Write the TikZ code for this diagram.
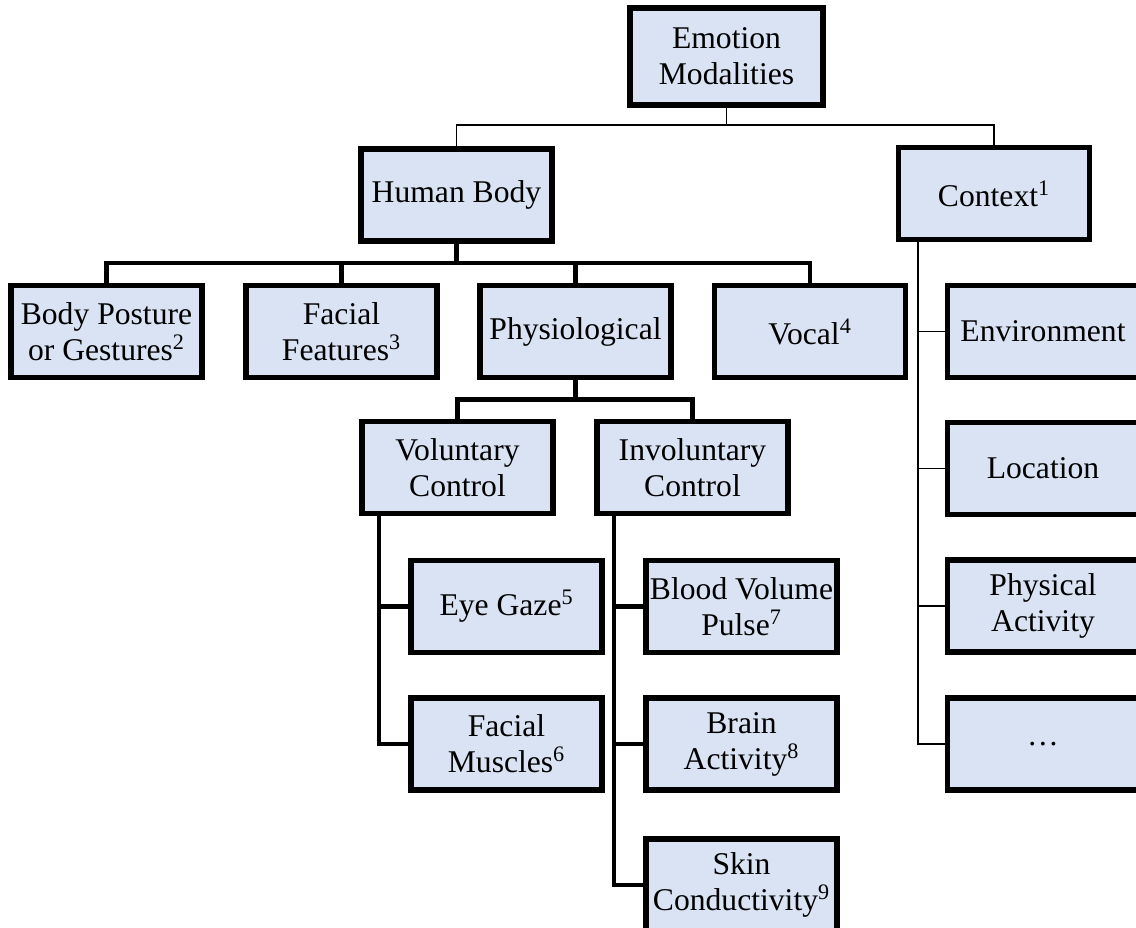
\documentclass[tikz,border=0pt]{standalone}
\usepackage{fontspec}
\setmainfont{Liberation Serif}
\usetikzlibrary{positioning}
\definecolor{modfill}{RGB}{218,227,243}
\tikzset{
  modbox/.style={draw, line width=3.2pt, fill=modfill, align=center,
                 minimum width=#1, minimum height=1.84cm, inner sep=1pt,
                 font=\fontsize{18}{20.5}\selectfont},
  modbox/.default=3.82cm,
  thinln/.style ={line width=1.1pt},
  thickln/.style={line width=2.6pt},
}

\begin{document}
\begin{tikzpicture}[x=0.02cm,y=-0.02cm]
  \useasboundingbox (0,0) rectangle (1136,928);
  \clip (0,0) rectangle (1136,928);
  %% top levels
  \node[modbox=3.86cm, minimum height=1.94cm] (emo) at (726.5,56.5) {Emotion\\Modalities};
  \node[modbox] (hbody) at (456.5,195) {Human Body};
  \node[modbox] (ctx) at (994,193.5) {Context\textsuperscript{1}};
  %% human body children
  \node[modbox] (posture) at (106.5,331.5) {Body Posture\\or Gestures\textsuperscript{2}};
  \node[modbox] (face) at (341.5,331.5) {Facial\\Features\textsuperscript{3}};
  \node[modbox] (physio) at (575.5,331.5) {Physiological};
  \node[modbox] (vocal) at (810,331.5) {Vocal\textsuperscript{4}};
  %% physiological children
  \node[modbox] (vol) at (457.5,467.5) {Voluntary\\Control};
  \node[modbox] (invol) at (692.5,467.5) {Involuntary\\Control};
  \node[modbox] (gaze) at (506.5,606.5) {Eye Gaze\textsuperscript{5}};
  \node[modbox] (muscle) at (506.5,744) {Facial\\Muscles\textsuperscript{6}};
  \node[modbox] (bvp) at (741.5,606.5) {Blood Volume\\Pulse\textsuperscript{7}};
  \node[modbox] (brain) at (741.5,744) {Brain\\Activity\textsuperscript{8}};
  \node[modbox] (skin) at (741.5,885) {Skin\\Conductivity\textsuperscript{9}};
  %% context children
  \node[modbox] (env) at (1043,331.5) {Environment};
  \node[modbox] (loc) at (1043,468.5) {Location};
  \node[modbox] (phys) at (1043,606) {Physical\\Activity};
  \node[modbox] (etc) at (1043,744) {\dots};

  \draw[thinln] (emo.south) -- ++(0,17) -| (hbody.north);
  \draw[thinln] (emo.south) -- ++(0,17) -| (ctx.north);
  \foreach \n in {posture,face,physio,vocal}
    \draw[thickln] (hbody.south) -- ++(0,19) -| (\n.north);
  \foreach \n in {vol,invol}
    \draw[thickln] (physio.south) -- ++(0,19) -| (\n.north);
  \foreach \n in {gaze,muscle}
    \draw[thickln] (vol.south west) ++(20,0) |- (\n.west);
  \foreach \n in {bvp,brain,skin}
    \draw[thickln] (invol.south west) ++(20,0) |- (\n.west);
  \foreach \n in {env,loc,phys,etc}
    \draw[thinln] (ctx.south west) ++(22,0) |- (\n.west);
\end{tikzpicture}
\end{document}
